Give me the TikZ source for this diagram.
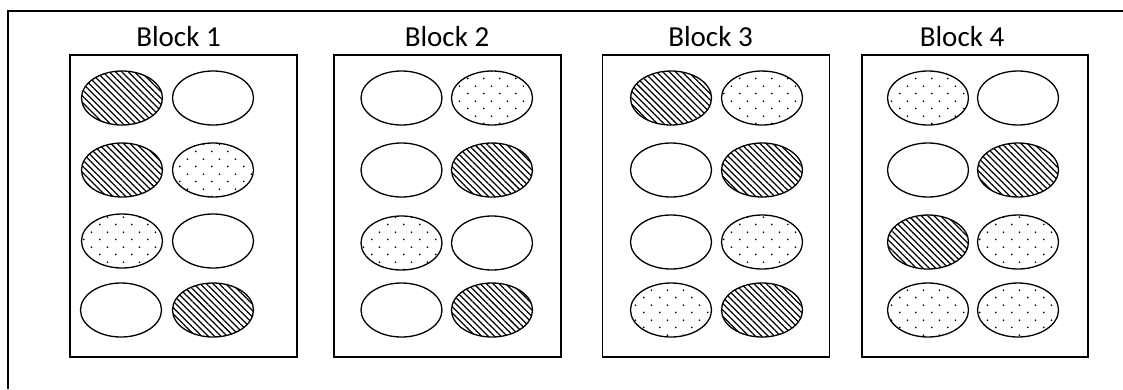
\documentclass[tikz,border=0pt]{standalone}
\usepackage{fontspec}
\setmainfont{Carlito}
\usetikzlibrary{shapes.geometric,patterns,patterns.meta}
\pgfdeclarepatternformonly{staggerdots}{\pgfpointorigin}{\pgfpoint{16pt}{14.6pt}}{\pgfpoint{16pt}{14.6pt}}{%
  \pgfpathcircle{\pgfpoint{4pt}{3.65pt}}{0.95pt}%
  \pgfpathcircle{\pgfpoint{12pt}{10.95pt}}{0.95pt}%
  \pgfusepath{fill}}
\tikzset{
  cellbase/.style={ellipse, draw, line width=1.3pt, minimum width=81pt, minimum height=54pt, inner sep=0pt},
  emptycell/.style={cellbase},
  hatchcell/.style={cellbase, pattern={Lines[angle=-45,distance=4.5pt,line width=1.25pt]}},
  dotcell/.style={cellbase, pattern=staggerdots},
  blockbox/.style={draw, line width=1.3pt, minimum width=227pt, minimum height=302pt, inner sep=0pt},
  blocktitle/.style={anchor=base, font=\fontsize{29}{31}\selectfont, inner sep=0pt},
  framestyle/.style={line width=1.3pt}
}
\begin{document}
\begin{tikzpicture}[x=1pt,y=1pt]
\useasboundingbox (0,0) rectangle (1123,-389);
% outer frame (top and left sides only)
\coordinate (ftl) at (8,-11);
\coordinate (ftr) at (1123,-11);
\coordinate (fbl) at (8,-389);
\draw[framestyle] (ftr) -- (ftl) -- (fbl);

% block boxes
\node[blockbox] (box1) at (183.5,-206) {};
\node[blockbox] (box2) at (447.5,-206) {};
\node[blockbox] (box3) at (716,-206) {};
\node[blockbox, minimum width=226pt] (box4) at (975,-206) {};

% titles
\node[blocktitle] (t1) at (178.5,-46) {Block 1};
\node[blocktitle] (t2) at (447,-46) {Block 2};
\node[blocktitle] (t3) at (710.5,-46) {Block 3};
\node[blocktitle] (t4) at (962,-46) {Block 4};

% Block 1
\node[hatchcell] (b1r1l) at (122,-98) {};
\node[emptycell] (b1r1r) at (213,-98) {};
\node[hatchcell] (b1r2l) at (122,-170) {};
\node[dotcell]   (b1r2r) at (213,-170) {};
\node[dotcell]   (b1r3l) at (122,-241) {};
\node[emptycell] (b1r3r) at (213,-241) {};
\node[emptycell] (b1r4l) at (121,-310) {};
\node[hatchcell] (b1r4r) at (213,-310) {};

% Block 2
\node[emptycell] (b2r1l) at (401.5,-98) {};
\node[dotcell]   (b2r1r) at (492,-98) {};
\node[emptycell] (b2r2l) at (401.5,-170) {};
\node[hatchcell] (b2r2r) at (492,-170) {};
\node[dotcell]   (b2r3l) at (401.5,-243) {};
\node[emptycell] (b2r3r) at (492,-243) {};
\node[emptycell] (b2r4l) at (401.5,-310) {};
\node[hatchcell] (b2r4r) at (492,-310) {};

% Block 3
\node[hatchcell] (b3r1l) at (671,-98) {};
\node[dotcell]   (b3r1r) at (762,-98) {};
\node[emptycell] (b3r2l) at (671,-170) {};
\node[hatchcell] (b3r2r) at (762,-170) {};
\node[emptycell] (b3r3l) at (671,-242) {};
\node[dotcell]   (b3r3r) at (762,-242) {};
\node[dotcell]   (b3r4l) at (671,-310) {};
\node[hatchcell] (b3r4r) at (762,-310) {};

% Block 4
\node[dotcell]   (b4r1l) at (928,-98) {};
\node[emptycell] (b4r1r) at (1018,-98) {};
\node[emptycell] (b4r2l) at (928,-170) {};
\node[hatchcell] (b4r2r) at (1018,-170) {};
\node[hatchcell] (b4r3l) at (928,-242) {};
\node[dotcell]   (b4r3r) at (1018,-242) {};
\node[dotcell]   (b4r4l) at (928,-310) {};
\node[dotcell]   (b4r4r) at (1018,-310) {};
\end{tikzpicture}
\end{document}
